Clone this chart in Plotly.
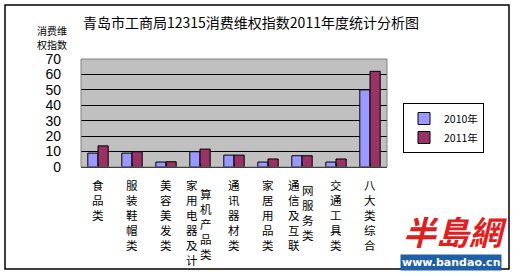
import plotly.graph_objects as go

categories = ["食品类", "服装鞋帽类", "美容美发类", "家用电器及计算机产品类", "通讯器材类",
              "家居用品类", "通信及互联网服务类", "交通工具类", "八大类综合"]
label_cols = [["食品类"], ["服装鞋帽类"], ["美容美发类"], ["家用电器及计", "算机产品类"],
              ["通讯器材类"], ["家居用品类"], ["通信及互联", "网服务类"], ["交通工具类"], ["八大类综合"]]
v2010 = [9.0, 9.0, 3.2, 9.9, 7.7, 3.2, 7.3, 3.2, 50.0]
v2011 = [13.7, 9.9, 3.4, 11.6, 7.7, 5.2, 7.3, 5.2, 62.0]
series_names = ["2010年", "2011年"]
yticks = [0, 10, 20, 30, 40, 50, 60, 70]
ytitle_lines = ["消费维", "权指数"]

W, H = 517, 275
L, R, T, B = 81, 387, 59, 167
pw, ph = R - L, B - T

def px(x):
    return (x - L) / pw

def py(y):
    return (B - y) / ph

FONT = "Noto Sans CJK SC, SimSun, sans-serif"

fig = go.Figure()
fig.add_trace(go.Bar(x=list(range(len(categories))), y=v2010, name=series_names[0],
                     marker=dict(color="#9999FF", line=dict(color="black", width=1))))
fig.add_trace(go.Bar(x=list(range(len(categories))), y=v2011, name=series_names[1],
                     marker=dict(color="#993366", line=dict(color="black", width=1))))

annotations = []
# category labels as stacked vertical characters
for i, cols in enumerate(label_cols):
    if len(cols) == 1:
        offs = [(0, 0)]
    else:
        offs = [(-8, 0), (6, 9 if i == 3 else 5)]
    for (dx, dy), txt in zip(offs, cols):
        annotations.append(dict(
            x=i, xref="x", xshift=dx, y=py(175 + dy), yref="paper",
            text="<br>".join(list(txt)), showarrow=False, xanchor="center", yanchor="top",
            font=dict(family=FONT, size=11.5, color="#000"), align="center"))

annotations.append(dict(x=px(81), y=py(22), xref="paper", yref="paper", xanchor="left", yanchor="middle",
                        text="青岛市工商局12315消费维权指数2011年度统计分析图", showarrow=False,
                        font=dict(family=FONT, size=14, color="#000")))
for k, line in enumerate(ytitle_lines):
    annotations.append(dict(x=px(52), y=py(31 + 13 * k), xref="paper", yref="paper",
                            xanchor="center", yanchor="middle", text=line, showarrow=False,
                            borderpad=0, font=dict(family=FONT, size=10, color="#000")))
# watermark
annotations.append(dict(x=px(455), y=py(231), xref="paper", yref="paper", xanchor="center", yanchor="middle",
                        text="<b><i>半島網</i></b>", showarrow=False,
                        font=dict(family=FONT, size=33, color="#E02020")))
annotations.append(dict(x=px(451), y=py(262), xref="paper", yref="paper", xanchor="center", yanchor="middle",
                        text="<b>www.bandao.cn</b>", showarrow=False, bgcolor="#1F5FA8",
                        font=dict(family="DejaVu Sans", size=11, color="white"), borderpad=1))

shapes = [
    dict(type="rect", xref="paper", yref="paper", x0=px(5), x1=px(509), y0=py(269), y1=py(5),
         line=dict(color="black", width=1.5), layer="below"),
    dict(type="rect", xref="paper", yref="paper", x0=0, x1=1, y0=0, y1=1,
         line=dict(color="#808080", width=1), layer="above"),
]

fig.update_layout(
    width=W, height=H,
    margin=dict(l=L, r=W - R, t=T, b=H - B, pad=0),
    paper_bgcolor="white", plot_bgcolor="#C0C0C0",
    barmode="group", bargap=0.4, bargroupgap=0,
    showlegend=True,
    legend=dict(x=px(403), y=py(103), xanchor="left", yanchor="top",
                bordercolor="black", borderwidth=1, bgcolor="white",
                font=dict(family=FONT, size=10.5, color="#000"),
                itemwidth=30, tracegroupgap=0),
    xaxis=dict(range=[-0.5, len(categories) - 0.5], tickvals=list(range(len(categories))),
               showticklabels=False, showgrid=False, zeroline=False,
               ticks="inside", tickson="boundaries", ticklen=4, tickcolor="black",
               showline=True, linecolor="black", linewidth=1),
    yaxis=dict(range=[0, 70], tickvals=yticks, ticktext=[str(t) for t in yticks],
               showgrid=True, gridcolor="black", gridwidth=1, zeroline=False,
               ticks="", ticklabelstandoff=19,
               tickfont=dict(family="Liberation Sans", size=14, color="#000"),
               showline=False),
    annotations=annotations, shapes=shapes,
)

fig.write_html("out.html")
